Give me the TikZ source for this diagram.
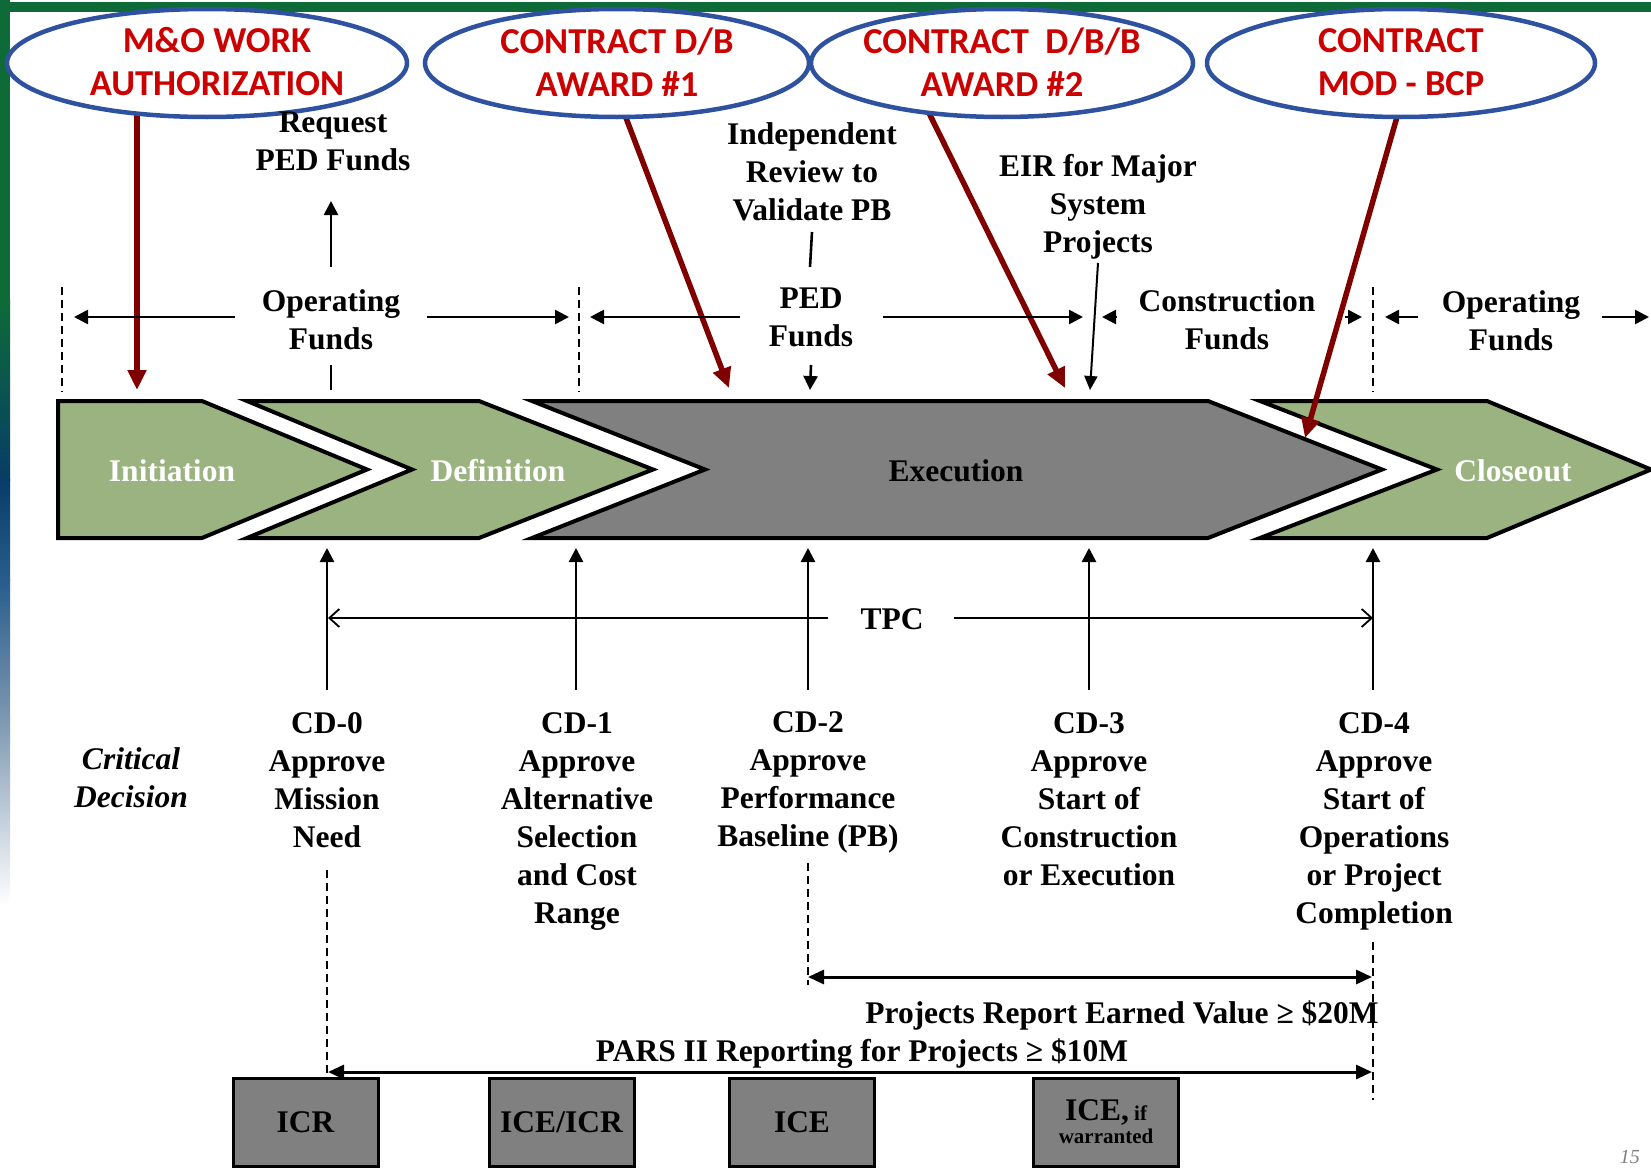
\documentclass[tikz,border=0pt]{standalone}
\usepackage{fontspec}
\setmainfont{Liberation Serif}
\newfontfamily\carlitofont{Carlito}
\usetikzlibrary{arrows.meta,shapes.geometric}
\definecolor{ellblue}{RGB}{47,82,160}
\definecolor{ellred}{RGB}{204,0,0}
\definecolor{arrred}{RGB}{128,0,0}
\definecolor{phgreen}{RGB}{155,179,128}
\definecolor{phgray}{RGB}{128,128,128}
\definecolor{topgreen}{RGB}{14,107,56}
\definecolor{barnavy}{RGB}{8,60,104}
\definecolor{barblue}{RGB}{40,92,140}
\definecolor{barslate}{RGB}{125,152,178}
\newcommand\lblfont{\fontsize{31.5}{38}\selectfont\bfseries}
\newcommand\ellfont{\carlitofont\fontsize{36.5}{43}\selectfont\bfseries}
\newcommand\smlfont{\fontsize{21}{23}\selectfont\bfseries}
\begin{document}
\begin{tikzpicture}[x=1pt,y=-1pt,
  lab/.style={font=\lblfont, align=center, inner sep=0pt},
  ell/.style={ellipse, draw=ellblue, line width=4.5pt, fill=white, inner sep=0pt},
  ellt/.style={font=\ellfont, text=ellred, align=center, inner sep=0pt},
  chev/.style={draw=black, line width=4pt, line join=miter},
  phtext/.style={font=\lblfont, inner sep=0pt},
  redarr/.style={draw=arrred, line width=5.5pt, -{Triangle[length=20pt,width=18pt]}},
  blkarr/.style={line width=2.6pt, -{Triangle[length=14pt,width=14pt]}},
  blkln/.style={line width=2.6pt},
  dashln/.style={line width=1.6pt, dash pattern=on 8pt off 5pt},
  tpcarr/.style={line width=1.8pt, -{Straight Barb[length=10pt,width=18pt]}},
  evarr/.style={line width=3pt, {Triangle[length=16pt,width=14pt]}-{Triangle[length=16pt,width=14pt]}},
  cdbox/.style={draw=black, line width=3pt, fill=phgray, minimum width=145pt, minimum height=88pt, inner sep=0pt, align=center, font=\lblfont}
]
\useasboundingbox (0,0) rectangle (1651,1167);
\fill[white] (0,0) rectangle (1651,1167);
% left decorative bar
\fill[topgreen] (0,0) rectangle (10,300);
\shade[top color=topgreen,bottom color=barnavy] (0,299.5) rectangle (10,480);
\shade[top color=barnavy,bottom color=barblue] (0,479.5) rectangle (10,580);
\shade[top color=barblue,bottom color=barslate] (0,579.5) rectangle (10,720);
\shade[top color=barslate,bottom color=white] (0,719.5) rectangle (10,905);
% top bar
\fill[topgreen] (0,2) rectangle (1651,12);

% phase chevrons
\filldraw[chev, fill=phgreen] (58,401) -- (202,401) -- (367,469.5) -- (202,538) -- (58,538) -- cycle;
\filldraw[chev, fill=phgreen] (247,401) -- (479,401) -- (653,469.5) -- (479,538) -- (247,538) -- (412,469.5) -- cycle;
\filldraw[chev, fill=phgray] (532,401) -- (1208,401) -- (1382,469.5) -- (1208,538) -- (532,538) -- (705,469.5) -- cycle;
\filldraw[chev, fill=phgreen] (1260,401) -- (1487,401) -- (1651,469.5) -- (1487,538) -- (1260,538) -- (1437,469.5) -- cycle;
\node[phtext, text=white] (pinit) at (172,471) {Initiation};
\node[phtext, text=white] (pdef) at (498,471) {Definition};
\node[phtext] (pexe) at (956,471) {Execution};
\node[phtext, text=white] (pclo) at (1513,471) {Closeout};

% red arrows from the contract ellipses
\coordinate (r1s) at (137,108);  \coordinate (r1e) at (137,390);
\coordinate (r2s) at (623,110);  \coordinate (r2e) at (729,388);
\coordinate (r3s) at (925,105);  \coordinate (r3e) at (1065,388);
\coordinate (r4s) at (1399,110); \coordinate (r4e) at (1305,438);
\draw[redarr] (r1s) -- (r1e);
\draw[redarr] (r2s) -- (r2e);
\draw[redarr] (r3s) -- (r3e);
\draw[redarr] (r4s) -- (r4e);

% ellipses
\node[ell, minimum width=400pt, minimum height=108pt] (e1) at (207,63) {};
\node[ell, minimum width=384pt, minimum height=108pt] (e2) at (617,63) {};
\node[ell, minimum width=382pt, minimum height=108pt] (e3) at (1002,63) {};
\node[ell, minimum width=388pt, minimum height=108pt] (e4) at (1401,63) {};
\node[ellt] (t1) at (217,62) {M\&O WORK\\AUTHORIZATION};
\node[ellt] (t2) at (617,62) {CONTRACT D/B\\AWARD \#1};
\node[ellt] (t3) at (1002,62) {CONTRACT\ \ D/B/B\\AWARD \#2};
\node[ellt] (t4) at (1401,62) {CONTRACT\\MOD - BCP};

% upper labels
\node[lab, anchor=north] (req) at (333,112) {Request\\PED Funds};
\node[lab, anchor=north] (of1) at (331,289) {Operating\\Funds};
\node[lab, anchor=north] (ind) at (812,122) {Independent\\Review to\\Validate PB};
\node[lab, anchor=north] (ped) at (811,288) {PED\\Funds};
\node[lab, anchor=north] (eir) at (1098,154) {EIR for Major\\System\\Projects};
\node[lab, anchor=north] (cf) at (1227,289) {Construction\\Funds};
\node[lab, anchor=north] (of2) at (1511,290) {Operating\\Funds};

% funding-period boundaries
\coordinate (d1a) at (62,287);   \coordinate (d1b) at (62,392);
\coordinate (d2a) at (579,287);  \coordinate (d2b) at (579,392);
\coordinate (d3a) at (1373,287); \coordinate (d3b) at (1373,392);
\draw[dashln] (d1a) -- (d1b);
\draw[dashln] (d2a) -- (d2b);
\draw[dashln] (d3a) -- (d3b);

% funding arrows
\coordinate (of1l) at (235,317); \coordinate (of1lt) at (74,317);
\coordinate (of1r) at (427,317); \coordinate (of1rt) at (569,317);
\coordinate (pedl) at (740,317); \coordinate (pedlt) at (590,317);
\coordinate (pedr) at (883,317); \coordinate (pedrt) at (1083,317);
\coordinate (cfl) at (1117,317); \coordinate (cflt) at (1102,317);
\coordinate (cfr) at (1345,317); \coordinate (cfrt) at (1362,317);
\coordinate (of2l) at (1418,317); \coordinate (of2lt) at (1385,317);
\coordinate (of2r) at (1602,317); \coordinate (of2rt) at (1649,317);
\draw[blkarr] (of1l) -- (of1lt);
\draw[blkarr] (of1r) -- (of1rt);
\draw[blkarr] (pedl) -- (pedlt);
\draw[blkarr] (pedr) -- (pedrt);
\draw[blkarr] (cfl) -- (cflt);
\draw[blkarr] (cfr) -- (cfrt);
\draw[blkarr] (of2l) -- (of2lt);
\draw[blkarr] (of2r) -- (of2rt);

% vertical ticks and arrows in the upper area
\coordinate (requp) at (331,201);
\draw[blkarr] ([yshift=22pt]of1.north) -- (requp);
\coordinate (of1tk) at (331,390);
\draw[blkln] ([yshift=-76pt]of1.north) -- (of1tk);
\coordinate (indtk) at (810,267);
\draw[blkln] ([yshift=-110pt]ind.north) -- (indtk);
\coordinate (peddn) at (810,390);
\draw[blkarr] ([yshift=-77pt]ped.north) -- (peddn);
\coordinate (eirdn) at (1090,390);
\draw[line width=2pt, -{Triangle[length=14pt,width=13pt]}] ([xshift=0pt,yshift=-109pt]eir.north) -- (eirdn);

% critical decision labels
\node[lab, anchor=north, font=\lblfont\itshape] (crit) at (131,747) {Critical\\Decision};
\node[lab, anchor=north] (cd0) at (327,712) {CD-0\\Approve\\Mission\\Need};
\node[lab, anchor=north] (cd1) at (577,712) {CD-1\\Approve\\Alternative\\Selection\\and Cost\\Range};
\node[lab, anchor=north] (cd2) at (808,711) {CD-2\\Approve\\Performance\\Baseline (PB)};
\node[lab, anchor=north] (cd3) at (1089,712) {CD-3\\Approve\\Start of\\Construction\\or Execution};
\node[lab, anchor=north] (cd4) at (1374,712) {CD-4\\Approve\\Start of\\Operations\\or Project\\Completion};

% up arrows to the phase band
\coordinate (u0) at (327,548);  \coordinate (u1) at (576,548);
\coordinate (u2) at (808,548);  \coordinate (u3) at (1089,548);
\coordinate (u4) at (1373,548);
\draw[blkarr] ([yshift=22pt]cd0.north) -- (u0);
\draw[blkarr] ([yshift=22pt]cd1.north -| u1) -- (u1);
\draw[blkarr] ([yshift=21pt]cd2.north) -- (u2);
\draw[blkarr] ([yshift=22pt]cd3.north) -- (u3);
\draw[blkarr] ([yshift=22pt]cd4.north -| u4) -- (u4);

% TPC
\node[lab] (tpc) at (892,619) {TPC};
\coordinate (tpcl) at (328,618); \coordinate (tpcr) at (1373,618);
\draw[tpcarr] ([xshift=-32pt]tpc.west |- tpcl) -- (tpcl);
\draw[tpcarr] ([xshift=30pt]tpc.east |- tpcr) -- (tpcr);

% dashed lines below
\coordinate (dd0a) at (327,870);  \coordinate (dd0b) at (327,1074);
\coordinate (dd2a) at (808,863);  \coordinate (dd2b) at (808,985);
\coordinate (dd4a) at (1373,942); \coordinate (dd4b) at (1373,1100);
\draw[dashln] (dd0a) -- (dd0b);
\draw[dashln] (dd2a) -- (dd2b);
\draw[dashln] (dd4a) -- (dd4b);

% reporting arrows
\coordinate (evl) at (808,977);  \coordinate (evr) at (1372,977);
\coordinate (parl) at (328,1072); \coordinate (parr) at (1372,1072);
\draw[evarr] (evl) -- (evr);
\draw[evarr] (parl) -- (parr);
\node[lab, anchor=base] (evt) at (1122,1023) {Projects Report Earned Value ≥ \$20M};
\node[lab, anchor=base] (part) at (862,1061) {PARS II Reporting for Projects ≥ \$10M};

% review boxes
\node[cdbox] (bicr) at (305.5,1122) {ICR};
\node[cdbox] (bicei) at (561.5,1122) {ICE/ICR};
\node[cdbox] (bice) at (802,1122) {ICE};
\node[cdbox, font=\smlfont] (bicew) at (1106,1122) {{\lblfont ICE,} if\\warranted};

% page number
\node[anchor=south east, inner sep=0pt, text=gray, font=\fontsize{20}{22}\selectfont\itshape] (pgno) at (1640,1164) {15};
\end{tikzpicture}
\end{document}
